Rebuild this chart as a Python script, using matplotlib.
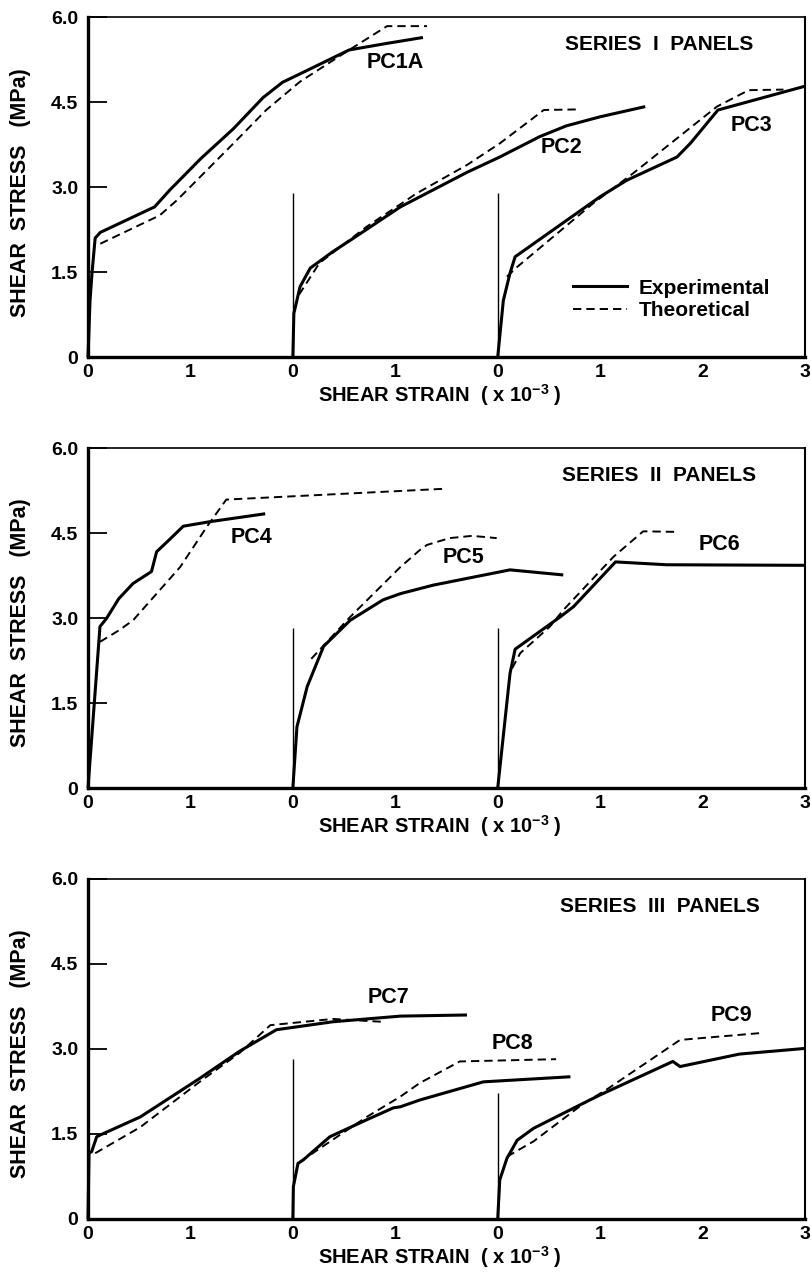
import matplotlib

matplotlib.use("Agg")
import matplotlib.pyplot as plt
from matplotlib.lines import Line2D

plt.rcParams["font.family"] = ["Liberation Sans", "DejaVu Sans"]
plt.rcParams["mathtext.default"] = "regular"
plt.rcParams["lines.scale_dashes"] = False

# strain (x 10^-3) counted from each curve's own origin, stress in MPa
PC1A_EXP_STRAIN = [0, 0.02, 0.04, 0.07, 0.12, 0.65, 0.80, 1.10, 1.42, 1.71, 1.90, 2.05, 2.30, 2.55, 2.90, 3.27]
PC1A_EXP_STRESS = [0, 1.0, 1.5, 2.1, 2.2, 2.65, 2.95, 3.50, 4.03, 4.58, 4.85, 4.98, 5.20, 5.42, 5.53, 5.64]
PC1A_TH_STRAIN = [0.12, 0.70, 0.87, 1.42, 1.74, 2.07, 2.55, 2.92, 3.31]
PC1A_TH_STRESS = [2.0, 2.5, 2.77, 3.77, 4.36, 4.86, 5.42, 5.84, 5.84]

PC2_EXP_STRAIN = [0, 0.01, 0.07, 0.17, 0.39, 0.56, 1.05, 1.37, 1.70, 2.02, 2.41, 2.67, 3.00, 3.44]
PC2_EXP_STRESS = [0, 0.77, 1.24, 1.57, 1.86, 2.06, 2.65, 2.95, 3.26, 3.53, 3.89, 4.08, 4.24, 4.42]
PC2_TH_STRAIN = [0.06, 0.26, 0.72, 1.21, 1.70, 2.02, 2.45, 2.77]
PC2_TH_STRESS = [1.1, 1.66, 2.30, 2.89, 3.39, 3.77, 4.36, 4.37]

PC3_EXP_STRAIN = [0, 0.055, 0.12, 0.17, 0.35, 1.00, 1.26, 1.75, 1.88, 2.15, 3.00]
PC3_EXP_STRESS = [0, 1.0, 1.48, 1.77, 2.0, 2.83, 3.12, 3.53, 3.77, 4.36, 4.78]
PC3_TH_STRAIN = [0.09, 0.19, 0.93, 1.32, 2.14, 2.45, 2.79]
PC3_TH_STRESS = [1.42, 1.59, 2.71, 3.24, 4.42, 4.71, 4.72]

PC4_EXP_STRAIN = [0, 0.117, 0.18, 0.30, 0.44, 0.62, 0.67, 0.77, 0.93, 1.19, 1.73]
PC4_EXP_STRESS = [0, 2.85, 2.99, 3.34, 3.61, 3.82, 4.17, 4.34, 4.62, 4.70, 4.84]
PC4_TH_STRAIN = [0.117, 0.30, 0.44, 0.67, 0.90, 1.16, 1.35, 3.47]
PC4_TH_STRESS = [2.58, 2.78, 2.96, 3.43, 3.90, 4.61, 5.09, 5.28]

PC5_EXP_STRAIN = [0, 0.04, 0.14, 0.30, 0.56, 0.88, 1.05, 1.37, 2.12, 2.64]
PC5_EXP_STRESS = [0, 1.08, 1.79, 2.50, 2.96, 3.32, 3.43, 3.58, 3.85, 3.76]
PC5_TH_STRAIN = [0.18, 0.56, 1.05, 1.24, 1.31, 1.53, 1.75, 1.99]
PC5_TH_STRESS = [2.28, 3.02, 3.90, 4.20, 4.29, 4.41, 4.45, 4.41]

PC6_EXP_STRAIN = [0, 0.12, 0.17, 0.61, 0.74, 1.15, 1.65, 3.00]
PC6_EXP_STRESS = [0, 2.02, 2.45, 3.02, 3.20, 3.99, 3.94, 3.93]
PC6_TH_STRAIN = [0.14, 0.22, 0.51, 0.64, 1.13, 1.42, 1.75]
PC6_TH_STRESS = [2.11, 2.38, 2.85, 3.14, 4.08, 4.53, 4.52]

PC7_EXP_STRAIN = [0, 0.01, 0.036, 0.085, 0.117, 0.51, 1.09, 1.48, 1.84, 2.39, 3.05, 3.70]
PC7_EXP_STRESS = [0, 1.16, 1.19, 1.45, 1.48, 1.80, 2.48, 2.96, 3.34, 3.48, 3.58, 3.60]
PC7_TH_STRAIN = [0.07, 0.51, 1.09, 1.48, 1.78, 2.39, 2.87]
PC7_TH_STRESS = [1.16, 1.62, 2.42, 2.93, 3.42, 3.53, 3.48]

PC8_EXP_STRAIN = [0, 0.005, 0.05, 0.10, 0.36, 0.72, 0.98, 1.05, 1.24, 1.86, 2.71]
PC8_EXP_STRESS = [0, 0.57, 0.98, 1.04, 1.45, 1.75, 1.96, 1.98, 2.10, 2.42, 2.51]
PC8_TH_STRAIN = [0.07, 0.72, 1.05, 1.24, 1.63, 2.57]
PC8_TH_STRESS = [1.01, 1.80, 2.16, 2.40, 2.78, 2.82]

PC9_EXP_STRAIN = [0, 0.02, 0.09, 0.19, 0.35, 0.80, 1.00, 1.71, 1.78, 2.36, 3.00]
PC9_EXP_STRESS = [0, 0.69, 1.07, 1.39, 1.60, 2.01, 2.19, 2.78, 2.69, 2.91, 3.01]
PC9_TH_STRAIN = [0.09, 0.35, 0.84, 1.06, 1.78, 2.56]
PC9_TH_STRESS = [1.10, 1.37, 2.04, 2.28, 3.16, 3.28]

SERIES_TITLES = ["SERIES I PANELS", "SERIES II PANELS", "SERIES III PANELS"]
PANEL_NAMES = [["PC1A", "PC2", "PC3"], ["PC4", "PC5", "PC6"], ["PC7", "PC8", "PC9"]]
# height of the thin zero-strain lines drawn for the 2nd and 3rd curve
ORIGIN_LINE_TOP = [[2.9, 2.9], [2.83, 2.83], [2.82, 2.22]]

CURVES = [
    [
        (PC1A_EXP_STRAIN, PC1A_EXP_STRESS, PC1A_TH_STRAIN, PC1A_TH_STRESS),
        (PC2_EXP_STRAIN, PC2_EXP_STRESS, PC2_TH_STRAIN, PC2_TH_STRESS),
        (PC3_EXP_STRAIN, PC3_EXP_STRESS, PC3_TH_STRAIN, PC3_TH_STRESS),
    ],
    [
        (PC4_EXP_STRAIN, PC4_EXP_STRESS, PC4_TH_STRAIN, PC4_TH_STRESS),
        (PC5_EXP_STRAIN, PC5_EXP_STRESS, PC5_TH_STRAIN, PC5_TH_STRESS),
        (PC6_EXP_STRAIN, PC6_EXP_STRESS, PC6_TH_STRAIN, PC6_TH_STRESS),
    ],
    [
        (PC7_EXP_STRAIN, PC7_EXP_STRESS, PC7_TH_STRAIN, PC7_TH_STRESS),
        (PC8_EXP_STRAIN, PC8_EXP_STRESS, PC8_TH_STRAIN, PC8_TH_STRESS),
        (PC9_EXP_STRAIN, PC9_EXP_STRESS, PC9_TH_STRAIN, PC9_TH_STRESS),
    ],
]

X_TICK_LABELS = ["0", "1", "0", "1", "0", "1", "2", "3"]
Y_TICKS = [0, 1.5, 3.0, 4.5, 6.0]
Y_TICK_LABELS = ["0", "1.5", "3.0", "4.5", "6.0"]

# layout: where each curve's zero sits on the shared axis, and label spots
ORIGINS = [0, 2, 4]
NAME_POS = [
    [(3.0, 5.19), (4.62, 3.70), (6.48, 4.08)],
    [(1.6, 4.42), (3.67, 4.07), (6.16, 4.29)],
    [(2.93, 3.91), (4.14, 3.09), (6.28, 3.59)],
]
AX_BOTTOMS = [0.7217, 0.3858, 0.0499]

SOLID_LW = 2.2
DASH_LW = 1.4
DASH = (0, (6, 3.6))
TXT = dict(fontsize=15.5, fontweight="bold")

fig = plt.figure(figsize=(8.11, 12.83), dpi=100)

for p in range(3):
    ax = fig.add_axes([0.1085, AX_BOTTOMS[p], 0.8841, 0.2650])
    ax.set_xlim(0, 7)
    ax.set_ylim(0, 6)

    for c, (xe, ye, xt, yt) in enumerate(CURVES[p]):
        x0 = ORIGINS[c]
        ax.plot([x0 + v for v in xe], ye, color="black", lw=SOLID_LW,
                solid_joinstyle="round", solid_capstyle="butt", clip_on=False)
        ax.plot([x0 + v for v in xt], yt, color="black", lw=DASH_LW, linestyle=DASH)
        nx, ny = NAME_POS[p][c]
        ax.text(nx, ny, PANEL_NAMES[p][c], ha="center", va="center", **TXT)

    for k, top in enumerate(ORIGIN_LINE_TOP[p]):
        ax.vlines(ORIGINS[k + 1], 0, top, color="black", lw=1.0)

    ax.text(0.797, 0.92, SERIES_TITLES[p].replace(" ", "  "), transform=ax.transAxes,
            ha="center", va="center", fontsize=15, fontweight="bold")

    # spines: heavy left/bottom, lighter frame on top/right
    for side, lw in (("left", 2.4), ("bottom", 2.4), ("top", 1.2), ("right", 1.5)):
        ax.spines[side].set_linewidth(lw)

    ax.set_xticks(range(8))
    ax.set_xticklabels(X_TICK_LABELS)
    ax.set_xticks([1, 3, 5, 6], minor=True)
    ax.set_yticks(Y_TICKS)
    ax.set_yticklabels(Y_TICK_LABELS)
    ax.tick_params(axis="x", which="major", length=0, pad=5, labelsize=14)
    ax.tick_params(axis="x", which="minor", direction="in", length=14, width=1.1)
    ax.tick_params(axis="y", which="major", direction="in", length=14, width=1.3,
                   pad=7, labelsize=14)
    for lab in ax.get_xticklabels() + ax.get_yticklabels():
        lab.set_fontweight("bold")

    ax.text(0.491, -0.112, "SHEAR STRAIN  ( x 10$^{-3}$ )", transform=ax.transAxes,
            ha="center", va="center", fontsize=14.5, fontweight="bold")
    ax.text(-0.094, 0.485, "SHEAR  STRESS   (MPa)", transform=ax.transAxes,
            ha="center", va="center", rotation=90, fontsize=15.5, fontweight="bold")

    if p == 0:
        handles = [Line2D([], [], color="black", lw=SOLID_LW),
                   Line2D([], [], color="black", lw=DASH_LW, linestyle=DASH)]
        ax.legend(handles, ["Experimental", "Theoretical"], loc="center left",
                  bbox_to_anchor=(0.676, 0.17), frameon=False,
                  prop=dict(size=15, weight="bold"),
                  handlelength=2.6, handletextpad=0.55, labelspacing=0.15,
                  borderpad=0, borderaxespad=0)

fig.savefig("out.png", dpi=100)
